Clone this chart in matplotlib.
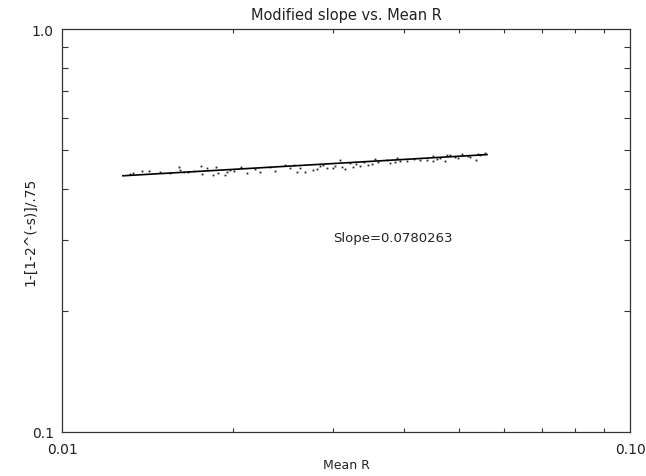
import matplotlib
matplotlib.use("Agg")
import matplotlib.pyplot as plt
from matplotlib.ticker import FixedLocator, NullFormatter, FixedFormatter

# Scatter data (Mean R, modified slope)
mean_r = [0.01333, 0.01383, 0.01423, 0.01550, 0.01607, 0.01614, 0.01640, 0.01667,
          0.01708, 0.01757, 0.01764, 0.01800, 0.01868, 0.01845, 0.01882, 0.01937,
          0.01952, 0.02008, 0.02066, 0.02117, 0.02232, 0.02324, 0.02372, 0.02469,
          0.02561, 0.02592, 0.02678, 0.02766, 0.02811, 0.02880, 0.02927, 0.03000,
          0.03086, 0.03111, 0.03149, 0.03214, 0.03253, 0.03347, 0.03402, 0.03457,
          0.03557, 0.03601, 0.03735, 0.03780, 0.03889, 0.03937, 0.04050, 0.04167,
          0.04392, 0.04501, 0.04501, 0.04574, 0.04725, 0.04764, 0.04822, 0.04981,
          0.05063, 0.05229, 0.05358, 0.05401, 0.05558,
          0.01317, 0.01488, 0.01976, 0.02187, 0.02520, 0.02624, 0.02846, 0.03024,
          0.03293, 0.03514, 0.03858, 0.04270, 0.04630, 0.04921, 0.05187, 0.05445]
mod_slope = [0.4398, 0.4450, 0.4450, 0.4398, 0.4554, 0.4476, 0.4424, 0.4424,
             0.4450, 0.4580, 0.4373, 0.4527, 0.4554, 0.4348, 0.4398, 0.4348,
             0.4424, 0.4450, 0.4554, 0.4398, 0.4424, 0.4554, 0.4450, 0.4607,
             0.4607, 0.4424, 0.4424, 0.4476, 0.4501, 0.4607, 0.4527, 0.4527,
             0.4741, 0.4554, 0.4501, 0.4660, 0.4554, 0.4580, 0.4687, 0.4607,
             0.4768, 0.4687, 0.4741, 0.4660, 0.4796, 0.4714, 0.4714, 0.4768,
             0.4741, 0.4851, 0.4714, 0.4768, 0.4714, 0.4879, 0.4879, 0.4796,
             0.4907, 0.4823, 0.4741, 0.4907, 0.4935,
             0.4373, 0.4424, 0.4476, 0.4501, 0.4527, 0.4527, 0.4580, 0.4580,
             0.4633, 0.4633, 0.4687, 0.4741, 0.4796, 0.4823, 0.4851, 0.4879]

# Fitted power-law line endpoints
fit_x = [0.0128, 0.0560]
fit_y = [0.4323, 0.4879]
slope_text = "Slope=0.0780263"

fig = plt.figure(figsize=(6.46, 4.77), dpi=100)
ax = fig.add_axes([62/646, 1 - 433/477, (630-62)/646, (433-30)/477])

ax.plot(mean_r, mod_slope, linestyle='none', marker='s', markersize=1.3,
        markeredgewidth=0, color='#222222')
ax.plot(fit_x, fit_y, color='black', linewidth=1.2)

ax.set_xscale('log')
ax.set_yscale('log')
ax.set_xlim(0.01, 0.1)
ax.set_ylim(0.1, 1.0)

ax.xaxis.set_major_locator(FixedLocator([0.01, 0.1]))
ax.xaxis.set_major_formatter(FixedFormatter(['0.01', '0.10']))
ax.xaxis.set_minor_locator(FixedLocator([0.02, 0.03, 0.04, 0.05, 0.06, 0.07, 0.08, 0.09]))
ax.xaxis.set_minor_formatter(NullFormatter())
ax.yaxis.set_major_locator(FixedLocator([0.1, 1.0]))
ax.yaxis.set_major_formatter(FixedFormatter(['0.1', '1.0']))
ax.yaxis.set_minor_locator(FixedLocator([0.2, 0.3, 0.4, 0.5, 0.6, 0.7, 0.8, 0.9]))
ax.yaxis.set_minor_formatter(NullFormatter())

ax.tick_params(axis='both', which='both', direction='in', top=True, right=True,
               width=0.8, color='#333333', labelsize=10, labelcolor='#222222')
ax.tick_params(axis='x', which='major', length=0, pad=7)
ax.tick_params(axis='x', which='minor', length=3)
ax.tick_params(axis='y', which='major', length=0, pad=6)
ax.tick_params(axis='y', which='minor', length=4.5)

for s in ax.spines.values():
    s.set_linewidth(0.9)
    s.set_color('#333333')

ax.set_title('Modified slope vs. Mean R', fontsize=10.5, color='#222222', pad=7)
ax.set_xlabel('Mean R', fontsize=9, color='#222222', labelpad=2)
ax.set_ylabel('1-[1-2^(-s)]/.75', fontsize=10, color='#222222', labelpad=-4)

ax.text(0.0300, 0.303, slope_text, fontsize=9.5, color='#222222', ha='left', va='center')

fig.savefig('out.png', dpi=100)
